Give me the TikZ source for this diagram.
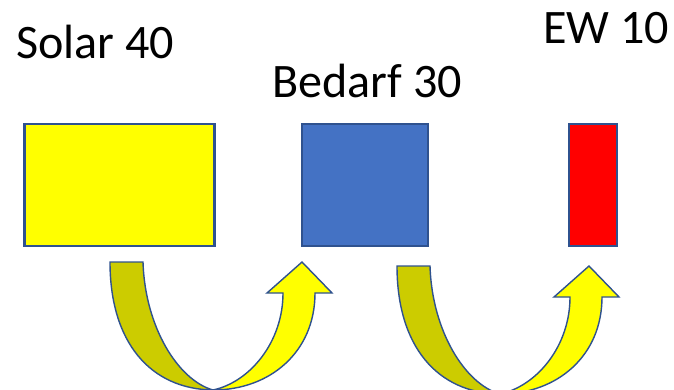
\documentclass[tikz,border=0pt]{standalone}
\usepackage{fontspec}
\setmainfont{Carlito}
\usetikzlibrary{positioning}

\definecolor{pptline}{HTML}{2F528F}
\definecolor{pptblue}{HTML}{4472C4}
\definecolor{pptyellow}{HTML}{FFFF00}
\definecolor{pptred}{HTML}{FF0000}
\definecolor{darkband}{HTML}{CCCC00}

\begin{document}
\begin{tikzpicture}[x=0.025cm,y=-0.025cm,
		box/.style={shape=rectangle,draw=pptline,line width=1.5pt,inner sep=0pt,minimum height=3.05cm},
		label/.style={inner sep=0pt,anchor=base west,font=\fontsize{34.2}{40}\selectfont},
		band/.style={draw=pptline,line width=1pt,line join=miter}]
		\useasboundingbox (0,0) rectangle (674,389);
		\clip (0,0) rectangle (674,389);

		\node[box,fill=pptyellow,minimum width=4.75cm] (solar) at (119.5,185) {};
		\node[box,fill=pptblue,minimum width=3.165cm] (bedarf) at (365,185) {};
		\node[box,fill=pptred,minimum width=1.185cm] (ew) at (593,185) {};

		\node[label] (solarlbl) at (16,58) {Solar 40};
		\node[label] (bedarflbl) at (272,97) {Bedarf 30};
		\node[label] (ewlbl) at (543,43) {EW 10};

		% solar -> bedarf
		\begin{scope}[shift={(110,262)}]
			\draw[band,fill=darkband] (0,0) -- (33,0) .. controls (35,65) and (68,118) .. (103,128)
				.. controls (40,127) and (0,80) .. (0,0) -- cycle;
			\draw[band,fill=pptyellow] (103,128) .. controls (140,120) and (173,80) .. (173,31) -- (157,31) -- (192,0)
				-- (222,31) -- (205,31) .. controls (205,90) and (160,128) .. (103,128) -- cycle;
		\end{scope}

		% bedarf -> ew
		\begin{scope}[shift={(397,266)}]
			\draw[band,fill=darkband] (0,0) -- (33,0) .. controls (35,65) and (68,118) .. (103,128)
				.. controls (40,127) and (0,80) .. (0,0) -- cycle;
			\draw[band,fill=pptyellow] (103,128) .. controls (140,120) and (173,80) .. (173,31) -- (157,31) -- (192,0)
				-- (222,31) -- (205,31) .. controls (205,90) and (160,128) .. (103,128) -- cycle;
		\end{scope}
	\end{tikzpicture}
\end{document}
